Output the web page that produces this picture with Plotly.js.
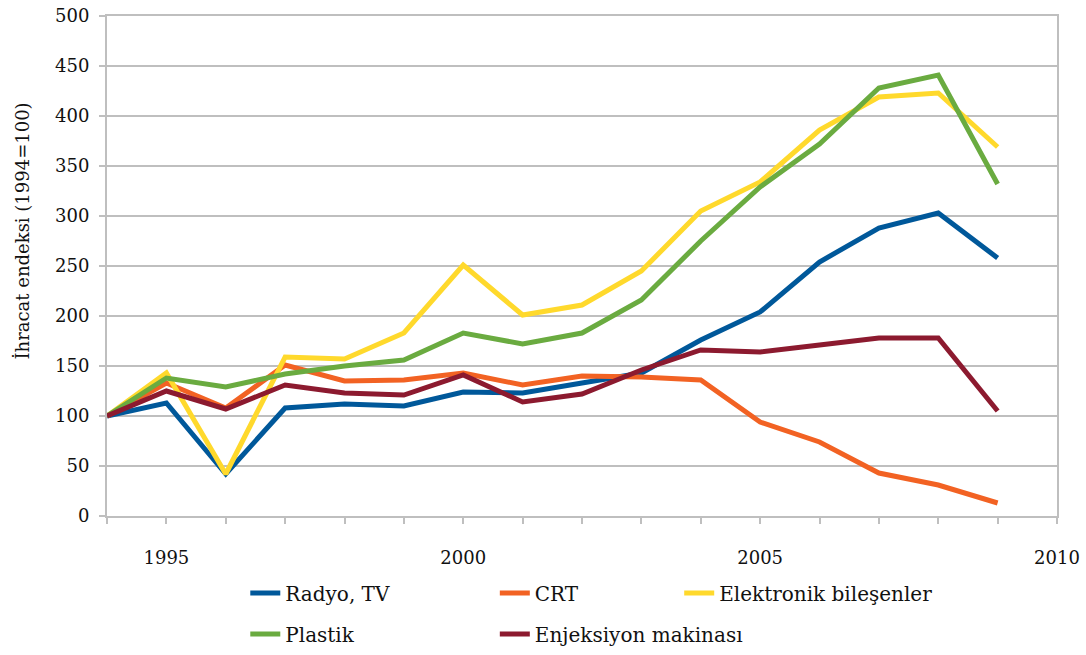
<!DOCTYPE html>
<html>
<head>
<meta charset="utf-8">
<script src="https://cdn.plot.ly/plotly-3.0.1.min.js"></script>
<style>html,body{margin:0;padding:0;background:#fff;}#chart{width:1086px;height:655px;}</style>
</head>
<body>
<div id="chart"></div>
<script>
const years = [1994,1995,1996,1997,1998,1999,2000,2001,2002,2003,2004,2005,2006,2007,2008,2009];
const radyoTV = [100,113,42,108,112,110,124,123,133,143,176,204,254,288,303,258];
const crt = [100,133,108,151,135,136,143,131,140,139,136,94,74,43,31,13];
const elektronik = [100,143,42,159,157,183,251,201,211,245,305,334,386,419,423,369];
const plastik = [100,138,129,142,150,156,183,172,183,216,275,329,372,428,441,332];
const enjeksiyon = [100,125,107,131,123,121,141,114,122,146,166,164,171,178,178,105];

const names = ["Radyo, TV","CRT","Elektronik bileşenler","Plastik","Enjeksiyon makinası"];
const colors = ["#00589A","#F26223","#FFD92C","#6AAB40","#8C1A2F"];
const series = [radyoTV, crt, elektronik, plastik, enjeksiyon];
const legendOf = ["legend","legend2","legend3","legend","legend2"];

const font = "DejaVu Serif";

const data = series.map((s,i)=>({
  x: years, y: s, name: names[i], type: "scatter", mode: "lines",
  line: {color: colors[i], width: 5, shape: "linear"},
  legend: legendOf[i], legendgroup: "g"+i, legendrank: i+1
}));

const legBase = {orientation:"v", bgcolor:"rgba(0,0,0,0)", font:{family:font,size:20,color:"#111"},
  yanchor:"top", y:-0.115, xanchor:"left", tracegroupgap:12, traceorder:"grouped", itemwidth:30};

const layout = {
  width:1086, height:655,
  margin:{l:107,r:29,t:16,b:139,autoexpand:false},
  paper_bgcolor:"#fff", plot_bgcolor:"#fff",
  font:{family:font,size:18,color:"#111"},
  showlegend:true,
  xaxis:{range:[1994,2010], tickvals:[1995,2000,2005,2010], ticktext:["1995","2000","2005","2010"],
    ticks:"outside", ticklen:6, tickwidth:2, tickcolor:"#bfbfbf",
    minor:{tickvals:[1994,1995,1996,1997,1998,1999,2000,2001,2002,2003,2004,2005,2006,2007,2008,2009,2010], ticks:"outside", ticklen:6, tickwidth:2, tickcolor:"#bfbfbf", showgrid:false},
    showline:true, linecolor:"#bfbfbf", linewidth:2, mirror:true, showgrid:false, zeroline:false,
    ticklabelstandoff:18, tickfont:{family:font,size:18,color:"#111"}},
  yaxis:{range:[0,500], dtick:50, tick0:0, ticks:"outside", ticklen:6, tickwidth:2, tickcolor:"#bfbfbf",
    showline:true, linecolor:"#bfbfbf", linewidth:2, mirror:true,
    showgrid:true, gridcolor:"#bfbfbf", gridwidth:2, zeroline:false,
    ticklabelstandoff:6, tickfont:{family:font,size:18,color:"#111"}},
  legend: Object.assign({}, legBase, {x:(245-107)/948}),
  legend2: Object.assign({}, legBase, {x:(494-107)/948}),
  legend3: Object.assign({}, legBase, {x:(678-107)/948}),
  annotations:[{text:"İhracat endeksi (1994=100)", textangle:-90, xref:"paper", yref:"paper",
    x:-0.09, y:(516-231)/500, xanchor:"center", yanchor:"middle", showarrow:false,
    font:{family:font,size:18,color:"#111"}}]
};

Plotly.newPlot("chart", data, layout, {displayModeBar:false, staticPlot:true});
</script>
</body>
</html>
